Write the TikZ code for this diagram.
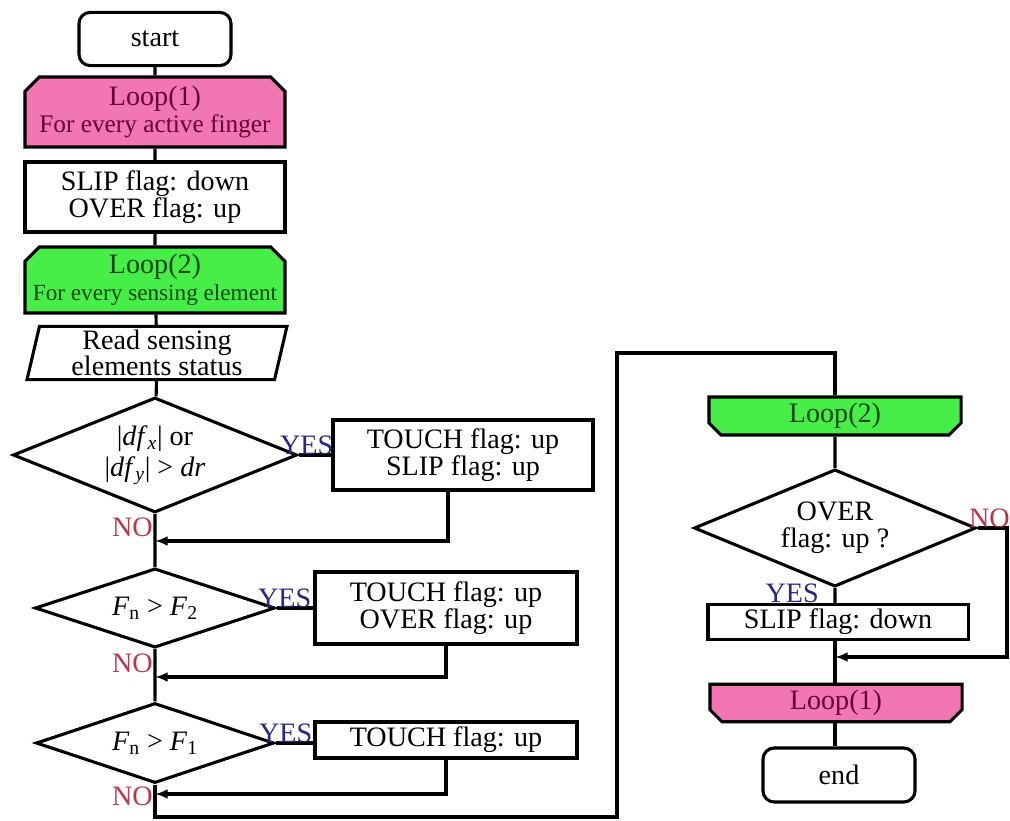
\documentclass[tikz,border=0pt]{standalone}
\usepackage{fontspec}
\setmainfont{Liberation Serif}
\usetikzlibrary{shapes.geometric,shapes.misc,arrows.meta}
\definecolor{looppink}{RGB}{242,118,178}
\definecolor{loopgreen}{RGB}{72,238,72}
\definecolor{pinktext}{RGB}{100,0,50}
\definecolor{greentext}{RGB}{0,70,0}
\definecolor{yesblue}{RGB}{40,40,130}
\definecolor{nored}{RGB}{185,55,75}
\tikzset{
  flow/.style={draw,line width=2.2pt,align=center,inner sep=0pt,font=\fontsize{20}{19}\selectfont},
  term/.style={flow,rounded corners=8pt,minimum width=3.8cm,minimum height=1.33cm},
  proc/.style={flow,rectangle},
  loopbegin/.style={flow,chamfered rectangle,chamfered rectangle corners={north west,north east},
    chamfered rectangle xsep=0.18cm,chamfered rectangle ysep=0.18cm},
  loopend/.style={flow,chamfered rectangle,chamfered rectangle corners={south west,south east},
    chamfered rectangle xsep=0.15cm,chamfered rectangle ysep=0.15cm},
  io/.style={flow,trapezium,trapezium left angle=79,trapezium right angle=101,trapezium stretches=true},
  decide/.style={flow,diamond},
  yeslbl/.style={text=yesblue,inner sep=0pt,font=\fontsize{20}{20}\selectfont},
  nolbl/.style={text=nored,inner sep=0pt,font=\fontsize{20}{20}\selectfont},
  link/.style={line width=2.2pt},
  back/.style={link,-{Latex[length=9pt,width=7pt]}}
}
\begin{document}
\begin{tikzpicture}[x=0.025cm,y=-0.025cm]
  \useasboundingbox (0,0) rectangle (1010,820);
  %% left column
  \node[term] (start) at (155,39) {start};
  \node[loopbegin,fill=looppink,text=pinktext,minimum width=6.5cm,minimum height=1.75cm] (loopa) at (155,112)
    {Loop(1)\\{\fontsize{18}{18}\selectfont For every active finger}};
  \node[proc,minimum width=6.5cm,minimum height=1.75cm] (flags) at (155,197) {SLIP flag: down\\OVER flag: up};
  \node[loopbegin,fill=loopgreen,text=greentext,minimum width=6.5cm,minimum height=1.65cm] (loopb) at (155,280)
    {Loop(2)\\{\fontsize{16.5}{16.5}\selectfont For every sensing element}};
  \node[io,minimum width=6.5cm,minimum height=1.33cm] (read) at (157,353) {Read sensing\\elements status};
  \node[decide,shape aspect=2.5,minimum width=7.1cm,minimum height=2.875cm,font=\fontsize{20}{22}\selectfont] (ca) at (155,455)
    {|\textit{df}\textsubscript{\textit{x}}| or\\|\textit{df}\textsubscript{\textit{y}}| > \textit{dr}};
  \node[decide,shape aspect=3,minimum width=6cm,minimum height=1.98cm] (cb) at (155,608)
    {\textit{F}\textsubscript{n} > \textit{F}\textsubscript{2}};
  \node[decide,shape aspect=3,minimum width=5.95cm,minimum height=2cm] (cc) at (155,743)
    {\textit{F}\textsubscript{n} > \textit{F}\textsubscript{1}};
  %% flag boxes
  \node[proc,minimum width=6.5cm,minimum height=1.75cm] (tb) at (463,455) {TOUCH flag: up\\SLIP flag: up};
  \node[proc,minimum width=6.55cm,minimum height=1.8cm] (tc) at (446,608) {TOUCH flag: up\\OVER flag: up};
  \node[proc,minimum width=6.55cm,minimum height=0.9cm] (td) at (446,740) {TOUCH flag: up};
  %% right column
  \node[loopend,fill=loopgreen,text=greentext,minimum width=6.3cm,minimum height=0.95cm] (loopc) at (835,416) {Loop(2)};
  \node[decide,shape aspect=2.4,minimum width=7.05cm,minimum height=2.93cm] (cd) at (835,528) {OVER\\flag: up ?};
  \node[proc,minimum width=6.5cm,minimum height=0.88cm] (te) at (838,622) {SLIP flag: down};
  \node[loopend,fill=looppink,text=pinktext,minimum width=6.3cm,minimum height=0.93cm] (loopd) at (836,703) {Loop(1)};
  \node[term,minimum height=1.35cm] (finish) at (839,775) {end};
  %% connectors
  \draw[link] (start) -- (loopa) -- (flags) -- (loopb) -- (read) -- (ca) -- (cb) -- (cc);
  \draw[link] (ca.east) -- (tb.west);
  \draw[link] (cb.east) -- (tc.west);
  \draw[link] (cc.east) -- (cc.east -| td.west);
  \coordinate (ja) at (155,541);
  \coordinate (jb) at (155,677);
  \coordinate (jc) at (155,794);
  \draw[back] ([xshift=-0.375cm]tb.south) |- (ja);
  \draw[back] (tc.south) |- (jb);
  \draw[back] (td.south) |- (jc);
  \coordinate (lb) at (617,817);
  \coordinate (lt) at (617,353);
  \draw[link] (cc) |- (lb) -- (lt) -| (loopc);
  \draw[link] (loopc) -- (cd) -- (cd.south |- te.north);
  \draw[link] (cd.south |- te.south) -- (cd.south |- loopd.north);
  \draw[link] (cd.south |- loopd.south) -- (cd.south |- finish.north);
  \coordinate (rr) at (1007,657);
  \coordinate (jd) at (835,657);
  \draw[back] (cd.east) -| (rr) -- (jd);
  %% labels
  \node[yeslbl,anchor=south,xshift=0.2cm] (ya) at (ca.east) {YES};
  \node[yeslbl,anchor=south,xshift=0.2cm] (yb) at (cb.east) {YES};
  \node[yeslbl,anchor=south,xshift=0.25cm] (yc) at (cc.east) {YES};
  \node[yeslbl,anchor=north east,xshift=-0.4cm,yshift=0.12cm] (yd) at (cd.south) {YES};
  \node[nolbl,anchor=north east,xshift=-0.05cm,yshift=-0.1cm] (na) at (ca.south) {NO};
  \node[nolbl,anchor=north east,xshift=-0.05cm,yshift=-0.1cm] (nb) at (cb.south) {NO};
  \node[nolbl,anchor=north east,xshift=-0.05cm,yshift=-0.05cm] (nc) at (cc.south) {NO};
  \node[nolbl,anchor=south west,xshift=-0.22cm] (nd) at (cd.east) {NO};
\end{tikzpicture}
\end{document}
